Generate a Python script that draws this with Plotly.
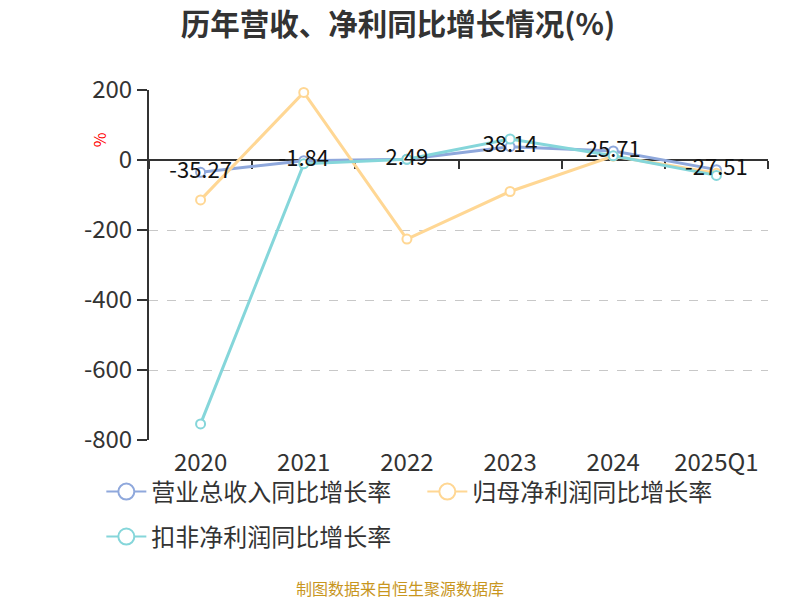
import plotly.graph_objects as go

categories = ["2020", "2021", "2022", "2023", "2024", "2025Q1"]
revenue_growth = [-35.27, -1.84, 2.49, 38.14, 25.71, -27.51]
parent_profit_growth = [-114, 193, -226, -90, 11, -38]
deducted_profit_growth = [-754, -11, 2, 60, 12, -44]
label_text = ["-35.27", "-1.84", "2.49", "38.14", "25.71", "-27.51"]
y_ticks = [200, 0, -200, -400, -600, -800]
y_tick_text = ["200", "0", "-200", "-400", "-600", "-800"]

series_names = ["营业总收入同比增长率", "归母净利润同比增长率", "扣非净利润同比增长率"]
colors = ["#8FA8DC", "#FFD794", "#85D6DA"]
legend_ids = ["legend", "legend", "legend2"]

FONT = "Noto Sans CJK SC"

fig = go.Figure()

series = [revenue_growth, parent_profit_growth, deducted_profit_growth]
for name, vals, c in zip(series_names, series, colors):
    fig.add_trace(go.Scatter(
        x=categories, y=vals, name=name,
        mode="lines+markers",
        line=dict(color=c, width=3),
        marker=dict(size=9, color="white", line=dict(color=c, width=2)),
        showlegend=False, cliponaxis=False,
    ))

# data labels on revenue series
fig.add_trace(go.Scatter(
    x=categories, y=revenue_growth, mode="text", text=label_text,
    textposition="middle center",
    textfont=dict(size=22, color="#111", family=FONT),
    showlegend=False, hoverinfo="skip", cliponaxis=False,
))

# legend-only entries with larger symbols
for name, c, lg in zip(series_names, colors, legend_ids):
    fig.add_trace(go.Scatter(
        x=[None], y=[None], name=name, mode="lines+markers",
        line=dict(color=c, width=2),
        marker=dict(size=20, color="white", line=dict(color=c, width=2)),
        legend=lg,
    ))

# invisible trace to register the bottom label axis
fig.add_trace(go.Scatter(x=categories, y=[None] * len(categories), xaxis="x2",
                         showlegend=False, hoverinfo="skip", mode="markers"))

legend_common = dict(orientation="h", xanchor="left", yanchor="middle",
                     font=dict(size=24, color="#333", family=FONT),
                     itemwidth=40, bgcolor="rgba(0,0,0,0)")

fig.update_layout(
    width=792, height=592,
    paper_bgcolor="white", plot_bgcolor="white",
    margin=dict(l=141, r=32, t=82, b=160, autoexpand=False),
    font=dict(family=FONT, color="#333"),
    title=dict(text="<b>历年营收、净利同比增长情况(%)</b>", x=0.4924, xanchor="center",
               y=0.972, yanchor="middle", font=dict(size=29.5, color="#333", family=FONT)),
    # main x axis: the line drawn at y = 0 with boundary ticks
    xaxis=dict(type="category", categoryarray=categories, range=[-0.5, 5.5],
               anchor="free", position=0.8, layer="below traces",
               showline=True, linecolor="#333", linewidth=2,
               ticks="outside", tickson="boundaries", ticklen=8, tickcolor="#333",
               tickwidth=2, showticklabels=False, showgrid=False, zeroline=False),
    # overlay x axis: category labels at the bottom
    xaxis2=dict(type="category", categoryarray=categories, range=[-0.5, 5.5],
                overlaying="x", anchor="y", side="bottom",
                showline=False, ticks="", showgrid=False, zeroline=False,
                tickfont=dict(size=24, color="#333", family=FONT),
                ticklabelstandoff=6),
    yaxis=dict(range=[-800, 200], tickvals=y_ticks, ticktext=y_tick_text,
               showline=True, linecolor="#333", linewidth=2, layer="below traces",
               ticks="outside", ticklen=10, tickcolor="#333", tickwidth=2,
               showgrid=True, gridcolor="#c8c8c8", griddash="dash", gridwidth=1,
               zeroline=False, tickfont=dict(size=24, color="#333", family=FONT)),
    legend=dict(x=-0.077, y=-0.1486, entrywidth=266, entrywidthmode="pixels", **legend_common),
    legend2=dict(x=-0.077, y=-0.277, **legend_common),
    annotations=[
        dict(text="%", x=-0.102, y=0.886, xref="paper", yref="paper", showarrow=False,
             textangle=-90, font=dict(size=16, color="red", family=FONT)),
        dict(text="制图数据来自恒生聚源数据库", x=0.4055, y=-0.4229, xref="paper", yref="paper",
             showarrow=False, xanchor="center", yanchor="middle",
             font=dict(size=16, color="#C8961E", family=FONT)),
    ],
)

fig.write_html("out.html")
